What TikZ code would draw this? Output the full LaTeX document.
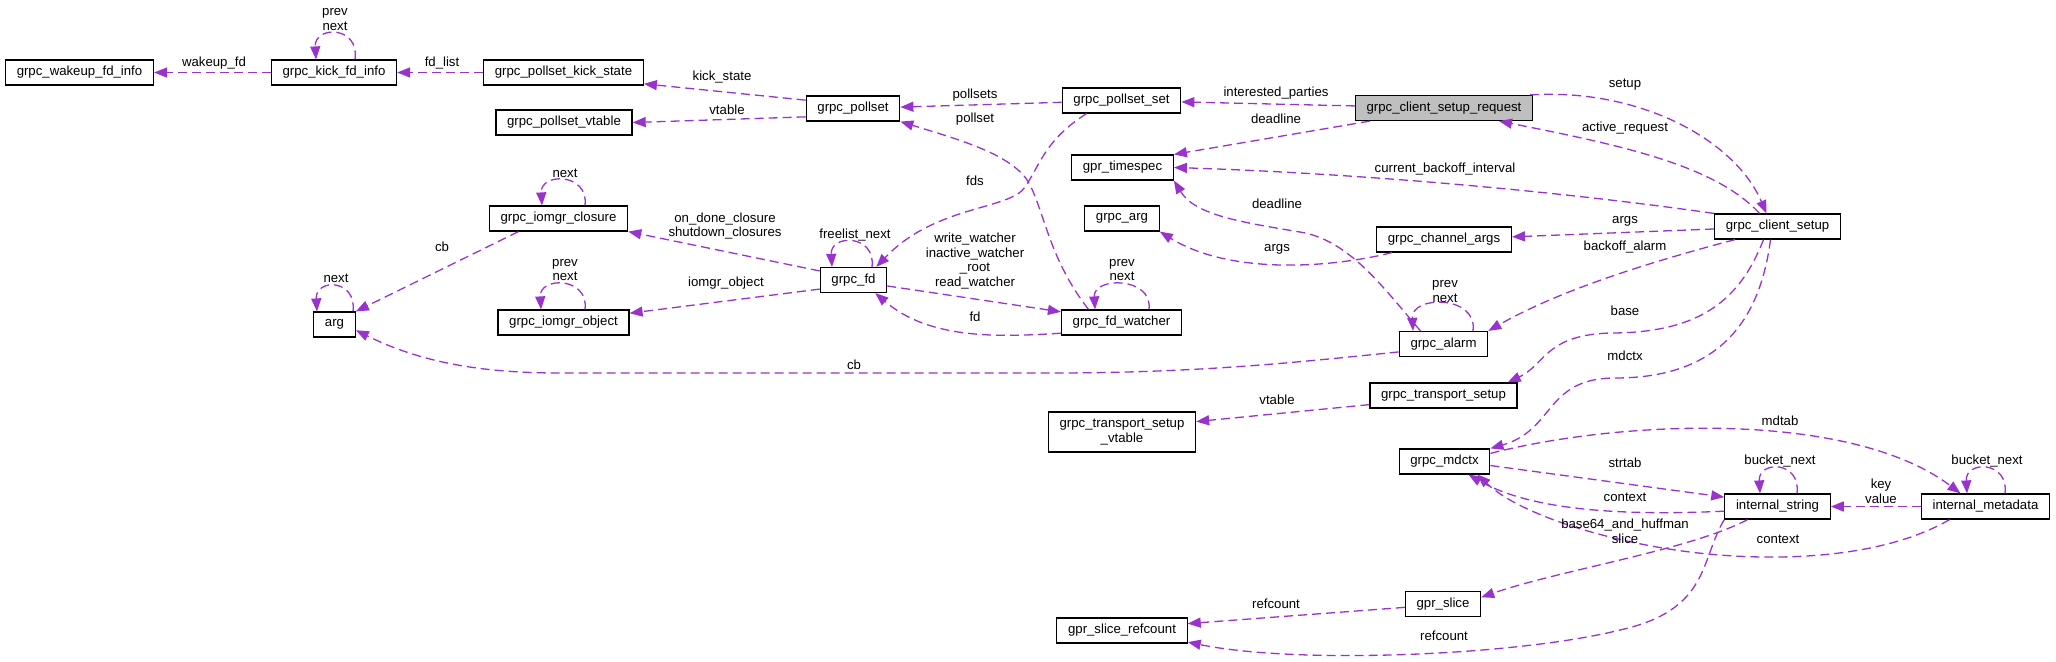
\documentclass[tikz,border=0pt]{standalone}
\usepackage{fontspec}
\setmainfont{Liberation Sans}
\usepackage{xcolor}
\usetikzlibrary{arrows.meta}
\definecolor{edgepurple}{RGB}{154,50,205}
\definecolor{rootgray}{RGB}{191,191,191}

\begin{document}
\begin{tikzpicture}[
    x=0.5pt, y=-0.5pt,
    font=\fontsize{6.6}{7.4}\selectfont,
    box/.style = {rectangle, draw=black, line width=0.6pt, fill=white, align=center, inner xsep=5.6pt, inner ysep=2pt, minimum height=12.5pt},
    root_box/.style = {box, fill=rootgray},
    elabel/.style = {align=center, inner sep=0pt},
    member/.style = {draw=edgepurple, line width=0.65pt, dash pattern=on 4.5pt off 2.5pt, -{Triangle[length=6.5pt,width=5pt]}}
]
\useasboundingbox (0,0) rectangle (2056,661);

% Top rows
\node [box] (wakeup) at (79.5,72.5) {grpc\_wakeup\_fd\_info};
\node [box] (kick) at (334,72.5) {grpc\_kick\_fd\_info};
\node [box] (kickstate) at (563.5,72.5) {grpc\_pollset\_kick\_state};
\node [box] (psvtable) at (564,122.5) {grpc\_pollset\_vtable};
\node [box] (pollset) at (853,108.5) {grpc\_pollset};
\node [box] (psset) at (1121.5,100.5) {grpc\_pollset\_set};
\node [root_box] (request) at (1444,108) {grpc\_client\_setup\_request};
\node [box] (timespec) at (1122.5,167.5) {gpr\_timespec};

% Middle rows
\node [box] (closure) at (558.5,218.5) {grpc\_iomgr\_closure};
\node [box] (arg) at (334.5,324.5) {arg};
\node [box] (iomgrobj) at (563.5,322.5) {grpc\_iomgr\_object};
\node [box] (fd) at (853.5,280) {grpc\_fd};
\node [box] (watcher) at (1121.5,322.5) {grpc\_fd\_watcher};
\node [box] (grpcarg) at (1122,218.5) {grpc\_arg};
\node [box] (chargs) at (1444,239.5) {grpc\_channel\_args};
\node [box] (setup) at (1777.5,226.5) {grpc\_client\_setup};
\node [box] (alarm) at (1443.5,344) {grpc\_alarm};
\node [box] (tsetup) at (1443.5,395.5) {grpc\_transport\_setup};
\node [box, minimum height=20pt] (tsvtable) at (1122,432) {grpc\_transport\_setup\\\_vtable};

% Bottom rows
\node [box] (mdctx) at (1444.5,461.5) {grpc\_mdctx};
\node [box] (istring) at (1777.5,506.5) {internal\_string};
\node [box] (imeta) at (1985.5,506.5) {internal\_metadata};
\node [box] (slice) at (1443,604) {gpr\_slice};
\node [box] (refcount) at (1122,630.5) {gpr\_slice\_refcount};

% Arrows
\draw [member] (kick) -- (wakeup) node [elabel] at (214,63) {wakeup\_fd};
\draw [member] ([xshift=10.5pt]kick.north) .. controls +(5,-34) and +(-2,-34) .. ([xshift=-9pt]kick.north) node [elabel] at (335,19.5) {prev\\next};
\draw [member] (kickstate) -- (kick) node [elabel] at (442,63) {fd\_list};
\draw [member] (pollset.170) -- (kickstate.-8) node [elabel] at (722,77) {kick\_state};
\draw [member] (pollset.190) -- (psvtable.east) node [elabel] at (727,110) {vtable};
\draw [member] (psset) -- (pollset) node [elabel] at (975,95) {pollsets};
\draw [member] ([xshift=-16.5pt]watcher.north) .. controls (1050,260) and (1045,215) .. (1030,185) .. controls (1015,155) and (960,140) .. (pollset.south east) node [elabel] at (975,119) {pollset};
\draw [member] ([xshift=-17.5pt]psset.south) .. controls (1045,140) and (1040,165) .. (1025,187) .. controls (1010,210) and (935,205) .. ([xshift=-5.5pt]fd.north east) node [elabel] at (975,181) {fds};
\draw [member] (request) -- (psset) node [elabel] at (1276,93) {interested\_parties};
\draw [member] ([xshift=7.5pt]request.south west) -- (timespec.north east) node [elabel] at (1276,119) {deadline};
\draw [member] ([xshift=-1.5pt]request.north east) .. controls (1640,88) and (1735,140) .. ([xshift=-5.5pt]setup.north) node [elabel] at (1625,85) {setup};
\draw [member] ([xshift=-9pt]setup.north) .. controls (1715,165) and (1620,145) .. ([xshift=27.5pt]request.south) node [elabel] at (1625,128) {active\_request};
\draw [member] (setup.north west) .. controls (1550,190) and (1350,173) .. (timespec.east) node [elabel] at (1445,169) {current\_backoff\_interval};
\draw [member] (setup) -- (chargs) node [elabel] at (1625,221) {args};
\draw [member] ([xshift=10.5pt]setup.south west) .. controls (1650,262) and (1560,290) .. (alarm.north east) node [elabel] at (1625,247) {backoff\_alarm};
\draw [member] ([xshift=-7pt]setup.south) .. controls (1740,300) and (1700,333) .. (1610,333) .. controls (1545,335) and (1545,365) .. ([xshift=-5pt]tsetup.north east) node [elabel] at (1625,311) {base};
\draw [member] ([xshift=-3.5pt]setup.south) .. controls (1760,320) and (1720,378) .. (1615,378) .. controls (1545,378) and (1555,430) .. (mdctx.north east) node [elabel] at (1625,356) {mdctx};
\draw [member] ([xshift=8pt]chargs.south west) .. controls (1330,268) and (1230,275) .. (grpcarg.south east) node [elabel] at (1277,249) {args};
\draw [member] ([xshift=-11.5pt]alarm.north) .. controls (1385,290) and (1350,240) .. (1300,232) .. controls (1240,222) and (1195,215) .. (timespec.south east) node [elabel] at (1277,204) {deadline};
\draw [member] ([xshift=14.75pt]alarm.north) .. controls +(5,-36) and +(-2,-36) .. ([xshift=-15.25pt]alarm.north) node [elabel] at (1445,291.5) {prev\\next};
\draw [member] (alarm.190) .. controls (1300,362) and (1200,373) .. (1050,373) -- (560,373) .. controls (480,373) and (420,362) .. (arg.-15) node [elabel] at (854,365) {cb};
\draw [member] ([xshift=-20pt]closure.south) -- (arg.north east) node [elabel] at (442,247) {cb};
\draw [member] ([xshift=9.25pt]arg.north) .. controls +(4,-33) and +(-2,-33) .. ([xshift=-8.75pt]arg.north) node [elabel] at (336,278) {next};
\draw [member] ([xshift=13.25pt]closure.north) .. controls +(4,-33) and +(-2,-33) .. ([xshift=-8.25pt]closure.north) node [elabel] at (565,173) {next};
\draw [member] ([xshift=10.75pt]iomgrobj.north) .. controls +(4,-33) and +(-2,-33) .. ([xshift=-11.25pt]iomgrobj.north) node [elabel] at (565,270) {prev\\next};
\draw [member] (fd.165) -- (closure.south east) node [elabel] at (725,226) {on\_done\_closure\\shutdown\_closures};
\draw [member] (fd.195) -- (iomgrobj.8) node [elabel] at (726,283) {iomgr\_object};
\draw [member] ([xshift=9.25pt]fd.north) .. controls +(4,-33) and +(-2,-33) .. ([xshift=-10.75pt]fd.north) node [elabel] at (855,235) {freelist\_next};
\draw [member] (fd.-10) -- (watcher.170) node [elabel] at (975,261) {write\_watcher\\inactive\_watcher\\\_root\\read\_watcher};
\draw [member] (watcher.190) .. controls (1000,337) and (930,340) .. ([xshift=-6pt]fd.south east) node [elabel] at (975,317) {fd};
\draw [member] ([xshift=13.75pt]watcher.north) .. controls +(4,-33) and +(-2,-33) .. ([xshift=-13.25pt]watcher.north) node [elabel] at (1122,270) {prev\\next};
\draw [member] (tsetup.187) -- (tsvtable.8) node [elabel] at (1277,400) {vtable};
\draw [member] (mdctx.10) .. controls (1620,420) and (1850,410) .. ([xshift=-12.5pt]imeta.north) node [elabel] at (1780,421) {mdtab};
\draw [member] (mdctx.-5) -- (istring.170) node [elabel] at (1625,463) {strtab};
\draw [member] (istring.185) .. controls (1620,516) and (1530,510) .. ([xshift=12pt]mdctx.south) node [elabel] at (1625,497) {context};
\draw [member] ([xshift=9.75pt]istring.north) .. controls +(4,-33) and +(-2,-33) .. ([xshift=-8.75pt]istring.north) node [elabel] at (1780,461) {bucket\_next};
\draw [member] ([xshift=9.75pt]imeta.north) .. controls +(4,-33) and +(-2,-33) .. ([xshift=-9.25pt]imeta.north) node [elabel] at (1987,461) {bucket\_next};
\draw [member] (imeta) -- (istring) node [elabel] at (1881,491) {key\\value};
\draw [member] ([xshift=-18pt]imeta.south) .. controls (1880,560) and (1770,562) .. (1690,552) .. controls (1610,542) and (1520,515) .. ([xshift=16.5pt]mdctx.south) node [elabel] at (1778,539) {context};
\draw [member] ([xshift=-15pt]istring.south) .. controls (1690,550) and (1560,570) .. (slice.10) node [elabel] at (1625,531.5) {base64\_and\_huffman\\slice};
\draw [member] (istring.south west) .. controls (1700,560) and (1710,610) .. (1620,630) .. controls (1520,655) and (1300,665) .. (refcount.-10) node [elabel] at (1444,636) {refcount};
\draw [member] (slice.185) -- (refcount.6) node [elabel] at (1276,604) {refcount};

\end{tikzpicture}
\end{document}
